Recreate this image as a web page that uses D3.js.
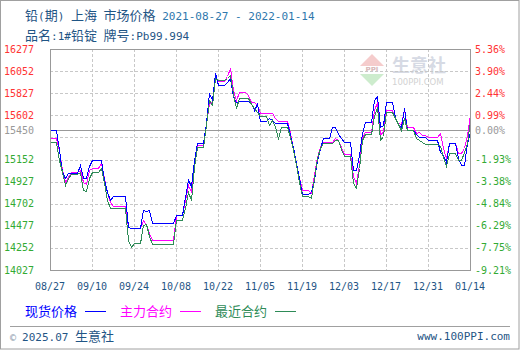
<!DOCTYPE html>
<html>
<head>
<meta charset="utf-8">
<script src="https://cdn.jsdelivr.net/npm/d3@7"></script>
<style>
  body { margin: 0; background: #fff; }
  svg { display: block; }
</style>
</head>
<body>
<div id="chart"></div>
<script>
// trading days shown on the chart
const dates = [
  "2021-08-27",
  "2021-08-30","2021-08-31","2021-09-01","2021-09-02","2021-09-03",
  "2021-09-06","2021-09-07","2021-09-08","2021-09-09","2021-09-10",
  "2021-09-13","2021-09-14","2021-09-15","2021-09-16","2021-09-17",
  "2021-09-22","2021-09-23","2021-09-24",
  "2021-09-27","2021-09-28","2021-09-29","2021-09-30",
  "2021-10-08",
  "2021-10-11","2021-10-12","2021-10-13","2021-10-14","2021-10-15",
  "2021-10-18","2021-10-19","2021-10-20","2021-10-21","2021-10-22",
  "2021-10-25","2021-10-26","2021-10-27","2021-10-28","2021-10-29",
  "2021-11-01","2021-11-02","2021-11-03","2021-11-04","2021-11-05",
  "2021-11-08","2021-11-09","2021-11-10","2021-11-11","2021-11-12",
  "2021-11-15","2021-11-16","2021-11-17","2021-11-18","2021-11-19",
  "2021-11-22","2021-11-23","2021-11-24","2021-11-25","2021-11-26",
  "2021-11-29","2021-11-30","2021-12-01","2021-12-02","2021-12-03",
  "2021-12-06","2021-12-07","2021-12-08","2021-12-09","2021-12-10",
  "2021-12-13","2021-12-14","2021-12-15","2021-12-16","2021-12-17",
  "2021-12-20","2021-12-21","2021-12-22","2021-12-23","2021-12-24",
  "2021-12-27","2021-12-28","2021-12-29","2021-12-30","2021-12-31",
  "2022-01-04","2022-01-05","2022-01-06","2022-01-07",
  "2022-01-10","2022-01-11","2022-01-12","2022-01-13","2022-01-14"
];

// 现货价格
const spot = [
  15450,
  15249, 15025, 14964, 15012, 15012,
  15096, 14961, 14961, 15086, 15147,
  15147, 14943, 14821, 14740, 14780,
  14468, 14452, 14452,
  14638, 14628, 14638, 14503,
  14587,
  14773, 14943, 14882, 15147, 15317,
  15521, 15826, 15758, 16030, 15911,
  15944, 15979, 15788, 15741, 15748,
  15748, 15724, 15656, 15717, 15544,
  15572, 15554, 15521, 15521, 15521,
  15402, 15282, 15113, 14961, 14800,
  14820, 14943, 15147, 15266, 15368,
  15486, 15486, 15412, 15371, 15330,
  15045, 15045, 15198, 15422, 15537,
  15758, 15799, 15486, 15503, 15741,
  15588, 15514, 15483, 15676, 15453,
  15412, 15384, 15384, 15384, 15351,
  15232, 15198, 15130, 15317,
  15167, 15096, 15096, 15317, 15436
];

// 主力合约
const mainContract = [
  15368,
  15249, 15045, 14926, 14977, 15022,
  15045, 14926, 14902, 15045, 15062,
  15113, 14964, 14821, 14719, 14680,
  14460, 14452, 14452,
  14536, 14485, 14404, 14333,
  14587,
  14740, 14893, 14821, 15147, 15300,
  15513, 15724, 15740, 15992, 15954,
  16002, 16080, 15860, 15758, 15839,
  15809, 15741, 15737, 15707, 15629,
  15629, 15622, 15575, 15544, 15544,
  15422, 15269, 15117, 14964, 14842,
  14808, 14994, 15181, 15282, 15333,
  15333, 15368, 15351, 15279, 15208,
  14984, 14913, 15096, 15381, 15435,
  15656, 15741, 15402, 15440, 15656,
  15572, 15524, 15514, 15656, 15486,
  15422, 15435, 15402, 15402, 15381,
  15422, 15269, 15164, 15317,
  15218, 15218, 15266, 15402, 15615
];

// 最近合约
const nearContract = [
  15333,
  15147, 15025, 14893, 14964, 15001,
  15025, 14842, 14831, 14964, 15028,
  15062, 14913, 14740, 14658, 14655,
  14333, 14258, 14302,
  14485, 14495, 14373, 14292,
  14536,
  14658, 14821, 14740, 15079, 15282,
  15503, 15758, 15707, 15979, 15961,
  15982, 16012, 15819, 15673, 15775,
  15775, 15717, 15676, 15636, 15595,
  15503, 15554, 15483, 15371, 15486,
  15384, 15249, 15096, 14923, 14780,
  14757, 14964, 15164, 15266, 15317,
  15317, 15351, 15351, 15259, 15188,
  14913, 14859, 15066, 15351, 15412,
  15595, 15690, 15351, 15390, 15639,
  15572, 15514, 15453, 15575, 15453,
  15371, 15351, 15333, 15310, 15310,
  15290, 15178, 15086, 15215,
  15147, 15147, 15228, 15320, 15544
];

const seriesNames = ["现货价格", "主力合约", "最近合约"];
const seriesColors = ["#0000ff", "#ff00ff", "#2e8b57"];

const gridValues = [16277, 16052, 15827, 15602, 15377, 15152, 14927, 14702, 14477, 14252, 14027];
const leftLabels = [16277, 16052, 15827, 15602, 15450, 15152, 14927, 14702, 14477, 14252, 14027];
const rightLabels = ["5.36%", "3.90%", "2.44%", "0.99%", "0.00%", "-1.93%", "-3.38%", "-4.84%", "-6.29%", "-7.75%", "-9.21%"];
const baseValue = 15450;
const xTickDates = ["2021-08-27","2021-09-10","2021-09-24","2021-10-08","2021-10-22","2021-11-05",
                    "2021-11-19","2021-12-03","2021-12-17","2021-12-31","2022-01-14"];

const W = 520, H = 350;
const pLeft = 50, pRight = 470, pTop = 49, pBottom = 270;
const mono = "'DejaVu Sans Mono', 'Liberation Mono', monospace";
const cjk = "'Noto Sans CJK SC', sans-serif";

const parse = d3.timeParse("%Y-%m-%d");
const fmt = d3.timeFormat("%m/%d");

const svg = d3.select("#chart").append("svg")
  .attr("width", W)
  .attr("height", H);

svg.append("rect")
  .attr("x", 0.5).attr("y", 0.5)
  .attr("width", W - 1.5).attr("height", H - 1.5)
  .attr("fill", "#fff")
  .attr("stroke", "#a0a0a0");

const x = d3.scaleTime()
  .domain([parse(xTickDates[0]), parse(xTickDates[xTickDates.length - 1])])
  .range([pLeft, pRight]);

const y = d3.scaleLinear()
  .domain([14027, 16277])
  .range([pBottom, pTop]);

// one calendar day in pixels, prices move during the last day before a quote
const dayPx = x(d3.timeDay.offset(x.domain()[0], 1)) - x(x.domain()[0]);

// holds the last price flat, then ramps over one day into the next one
function curveRamp(context) {
  let prev = null;
  return {
    areaStart() {}, areaEnd() {},
    lineStart() { prev = null; },
    lineEnd() {},
    point(px, py) {
      if (!prev) context.moveTo(px, py);
      else {
        context.lineTo(Math.max(prev[0], px - dayPx), prev[1]);
        context.lineTo(px, py);
      }
      prev = [px, py];
    }
  };
}

// writes ascii runs in mono and chinese runs in a bigger cjk font
function mixText(g, str, asciiSize, cjkSize) {
  const parts = str.match(/[\u0000-\u00ff]+|[^\u0000-\u00ff]+/g);
  parts.forEach(p => {
    const ascii = /^[\u0000-\u00ff]+$/.test(p);
    g.append("tspan")
      .attr("font-family", ascii ? mono : cjk)
      .attr("font-size", ascii ? asciiSize : cjkSize)
      .text(p);
  });
}

// titles
const t1 = svg.append("text").attr("x", 25).attr("y", 20).attr("fill", "#1f5585").attr("xml:space", "preserve");
mixText(t1, "铅(期) 上海 市场价格 ", "11px", "13px");
t1.append("tspan").attr("font-family", mono).attr("font-size", "11px").attr("fill", "#2f78ad").text("2021-08-27 - 2022-01-14");

const t2 = svg.append("text").attr("x", 25).attr("y", 40).attr("fill", "#1f5585").attr("xml:space", "preserve");
mixText(t2, "品名:1#铅锭 牌号:Pb99.994", "11px", "13px");

// watermark
const wm = svg.append("g");
wm.append("polygon").attr("points", "372,54 384,66 360,66").attr("fill", "#f5cccc");
wm.append("text").attr("x", 372).attr("y", 72).attr("text-anchor", "middle")
  .attr("font-family", "DejaVu Sans").attr("font-size", "7px").attr("font-weight", "bold")
  .attr("fill", "#d8b8b8").text("PPI");
wm.append("polygon").attr("points", "360,74 384,74 372,86").attr("fill", "#cdeccd");
wm.append("text").attr("x", 392).attr("y", 72)
  .attr("font-family", cjk).attr("font-size", "18px").attr("font-weight", "bold")
  .attr("fill", "#d6dae4").text("生意社");
wm.append("text").attr("x", 392).attr("y", 85)
  .attr("font-family", "DejaVu Sans").attr("font-size", "8.5px")
  .attr("fill", "#d2d2d2").text("100PPI.COM");

// grid
const grid = svg.append("g").attr("shape-rendering", "crispEdges");
grid.selectAll("line.h")
  .data(gridValues.slice(1, -1))
  .join("line").attr("class", "h")
  .attr("x1", pLeft).attr("x2", pRight)
  .attr("y1", d => Math.round(y(d)) + 0.5).attr("y2", d => Math.round(y(d)) + 0.5)
  .attr("stroke", "#c8c8c8").attr("stroke-dasharray", "3,2");
grid.selectAll("line.v")
  .data(xTickDates.slice(1, -1))
  .join("line").attr("class", "v")
  .attr("x1", d => Math.round(x(parse(d))) + 0.5).attr("x2", d => Math.round(x(parse(d))) + 0.5)
  .attr("y1", pTop).attr("y2", pBottom)
  .attr("stroke", "#c8c8c8").attr("stroke-dasharray", "3,2");
grid.append("line")
  .attr("x1", pLeft).attr("x2", pRight)
  .attr("y1", Math.round(y(baseValue)) + 0.5).attr("y2", Math.round(y(baseValue)) + 0.5)
  .attr("stroke", "#999");

// series
const allSeries = [mainContract, spot, nearContract];
const allColors = [seriesColors[1], seriesColors[0], seriesColors[2]];
const line = d3.line()
  .x(d => Math.round(x(d.date)) + 0.5)
  .y(d => Math.round(y(d.value)) + 0.5)
  .curve(curveRamp);

allSeries.forEach((vals, i) => {
  const pts = dates.map((d, j) => ({ date: parse(d), value: vals[j] }));
  svg.append("path")
    .datum(pts)
    .attr("d", line)
    .attr("fill", "none")
    .attr("stroke", allColors[i])
    .attr("stroke-width", 1)
    .attr("shape-rendering", "crispEdges");
});

// frame
svg.append("rect")
  .attr("x", pLeft + 0.5).attr("y", pTop + 0.5)
  .attr("width", pRight - pLeft).attr("height", pBottom - pTop)
  .attr("fill", "none").attr("stroke", "#999")
  .attr("shape-rendering", "crispEdges");

// y labels
const labelColor = v => v > baseValue ? "#ff3333" : (v === baseValue ? "#999999" : "#33aa33");
svg.selectAll("text.yl")
  .data(leftLabels)
  .join("text").attr("class", "yl")
  .attr("x", 4)
  .attr("y", d => y(d))
  .attr("dy", "0.35em")
  .attr("font-family", mono).attr("font-size", "10px")
  .attr("fill", labelColor)
  .text(d => d);

svg.selectAll("text.yr")
  .data(rightLabels)
  .join("text").attr("class", "yr")
  .attr("x", 475)
  .attr("y", (d, i) => y(leftLabels[i]))
  .attr("dy", "0.35em")
  .attr("font-family", mono).attr("font-size", "10px")
  .attr("fill", (d, i) => labelColor(leftLabels[i]))
  .text(d => d);

// x labels
svg.selectAll("text.xl")
  .data(xTickDates)
  .join("text").attr("class", "xl")
  .attr("x", d => x(parse(d)))
  .attr("y", 290)
  .attr("text-anchor", "middle")
  .attr("font-family", mono).attr("font-size", "10px")
  .attr("fill", "#1f5585")
  .text(d => fmt(parse(d)));

// legend
const legendX = [25, 120, 215];
const legend = svg.selectAll("g.lg")
  .data(seriesNames)
  .join("g").attr("class", "lg")
  .attr("transform", (d, i) => `translate(${legendX[i]},311)`);
legend.append("text")
  .attr("y", 5)
  .attr("font-family", cjk).attr("font-size", "13px")
  .attr("fill", (d, i) => seriesColors[i])
  .text(d => d);
legend.append("line")
  .attr("x1", 60).attr("x2", 81)
  .attr("y1", 0.5).attr("y2", 0.5)
  .attr("stroke", (d, i) => seriesColors[i])
  .attr("shape-rendering", "crispEdges");

// footer
svg.append("line")
  .attr("x1", 10).attr("x2", 510)
  .attr("y1", 326.5).attr("y2", 326.5)
  .attr("stroke", "#a0a0a0").attr("shape-rendering", "crispEdges");

const f1 = svg.append("text").attr("x", 10).attr("y", 341).attr("fill", "#1f5585").attr("xml:space", "preserve");
f1.append("tspan").attr("font-family", mono).attr("font-size", "10px").attr("fill", "#8899aa").text("© ");
mixText(f1, "2025.07 生意社", "11px", "13px");

svg.append("text")
  .attr("x", 510).attr("y", 340)
  .attr("text-anchor", "end")
  .attr("font-family", mono).attr("font-size", "11px")
  .attr("fill", "#1f5585")
  .text("www.100PPI.com");
</script>
</body>
</html>
